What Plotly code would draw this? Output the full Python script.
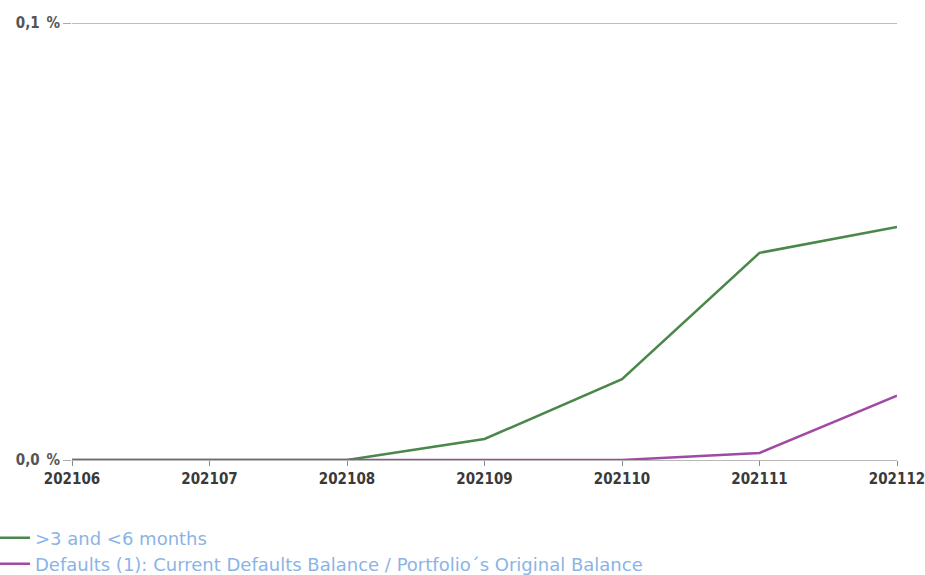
import plotly.graph_objects as go

months = ["202106", "202107", "202108", "202109", "202110", "202111", "202112"]
arrears_3_6 = [0.0, 0.0, 0.0, 0.0048, 0.0185, 0.0474, 0.0533]
defaults = [0.0, 0.0, 0.0, 0.0, 0.0, 0.0016, 0.0147]
y_ticks = [0.0, 0.1]
y_tick_labels = ["0,0\u2002%", "0,1\u2002%"]

fig = go.Figure()
fig.add_trace(go.Scatter(x=months, y=arrears_3_6, mode="lines", name=">3 and <6 months",
                         line=dict(color="#4a874a", width=2.5), legend="legend"))
fig.add_trace(go.Scatter(x=months, y=defaults, mode="lines",
                         name="Defaults (1): Current Defaults Balance / Portfolio´s Original Balance",
                         line=dict(color="#a04aa4", width=2.5), legend="legend2"))

W, H = 925, 575
L, R, T, B = 72, 28, 23, 115
pw = W - L - R
ph = H - T - B
plot_bottom = H - B

tick_font = dict(family="DejaVu Sans Condensed, DejaVu Sans, sans-serif", size=15,
                 color="#3a3a3a", weight="bold")
leg_font = dict(family="DejaVu Sans, Verdana, sans-serif", size=18, color="#8ab4e6")
fig.update_layout(
    width=W, height=H,
    margin=dict(l=L, r=R, t=T, b=B, autoexpand=False),
    paper_bgcolor="white", plot_bgcolor="white",
    font=dict(family="DejaVu Sans, Verdana, sans-serif", size=12, color="#444"),
    legend=dict(x=(-5 - L) / pw, y=(plot_bottom - 538) / ph,
                xanchor="left", yanchor="middle", font=leg_font, bgcolor="rgba(0,0,0,0)"),
    legend2=dict(x=(-5 - L) / pw, y=(plot_bottom - 564) / ph,
                 xanchor="left", yanchor="middle", font=leg_font, bgcolor="rgba(0,0,0,0)"),
    showlegend=True,
)
fig.update_xaxes(type="category", range=[0, len(months) - 1], showgrid=False,
                 showline=True, linecolor="#b8b8b8", linewidth=1, automargin=False,
                 ticks="outside", ticklen=5, tickcolor="#888",
                 tickfont=tick_font, zeroline=False)
fig.update_yaxes(range=[0, 0.1], tickvals=y_ticks, ticktext=y_tick_labels, automargin=False,
                 showgrid=False, zeroline=False,
                 ticks="outside", ticklen=8, tickcolor="#aaa",
                 tickfont=dict(family="DejaVu Sans Condensed, DejaVu Sans, sans-serif",
                               size=15, color="#555", weight="bold"), showline=False)
fig.add_hline(y=y_ticks[1], line=dict(color="#7a7a7a", width=1.2))

fig.write_html("out.html", config={"displayModeBar": False},
               post_script="document.body.style.margin='0';document.body.style.overflow='hidden';")
